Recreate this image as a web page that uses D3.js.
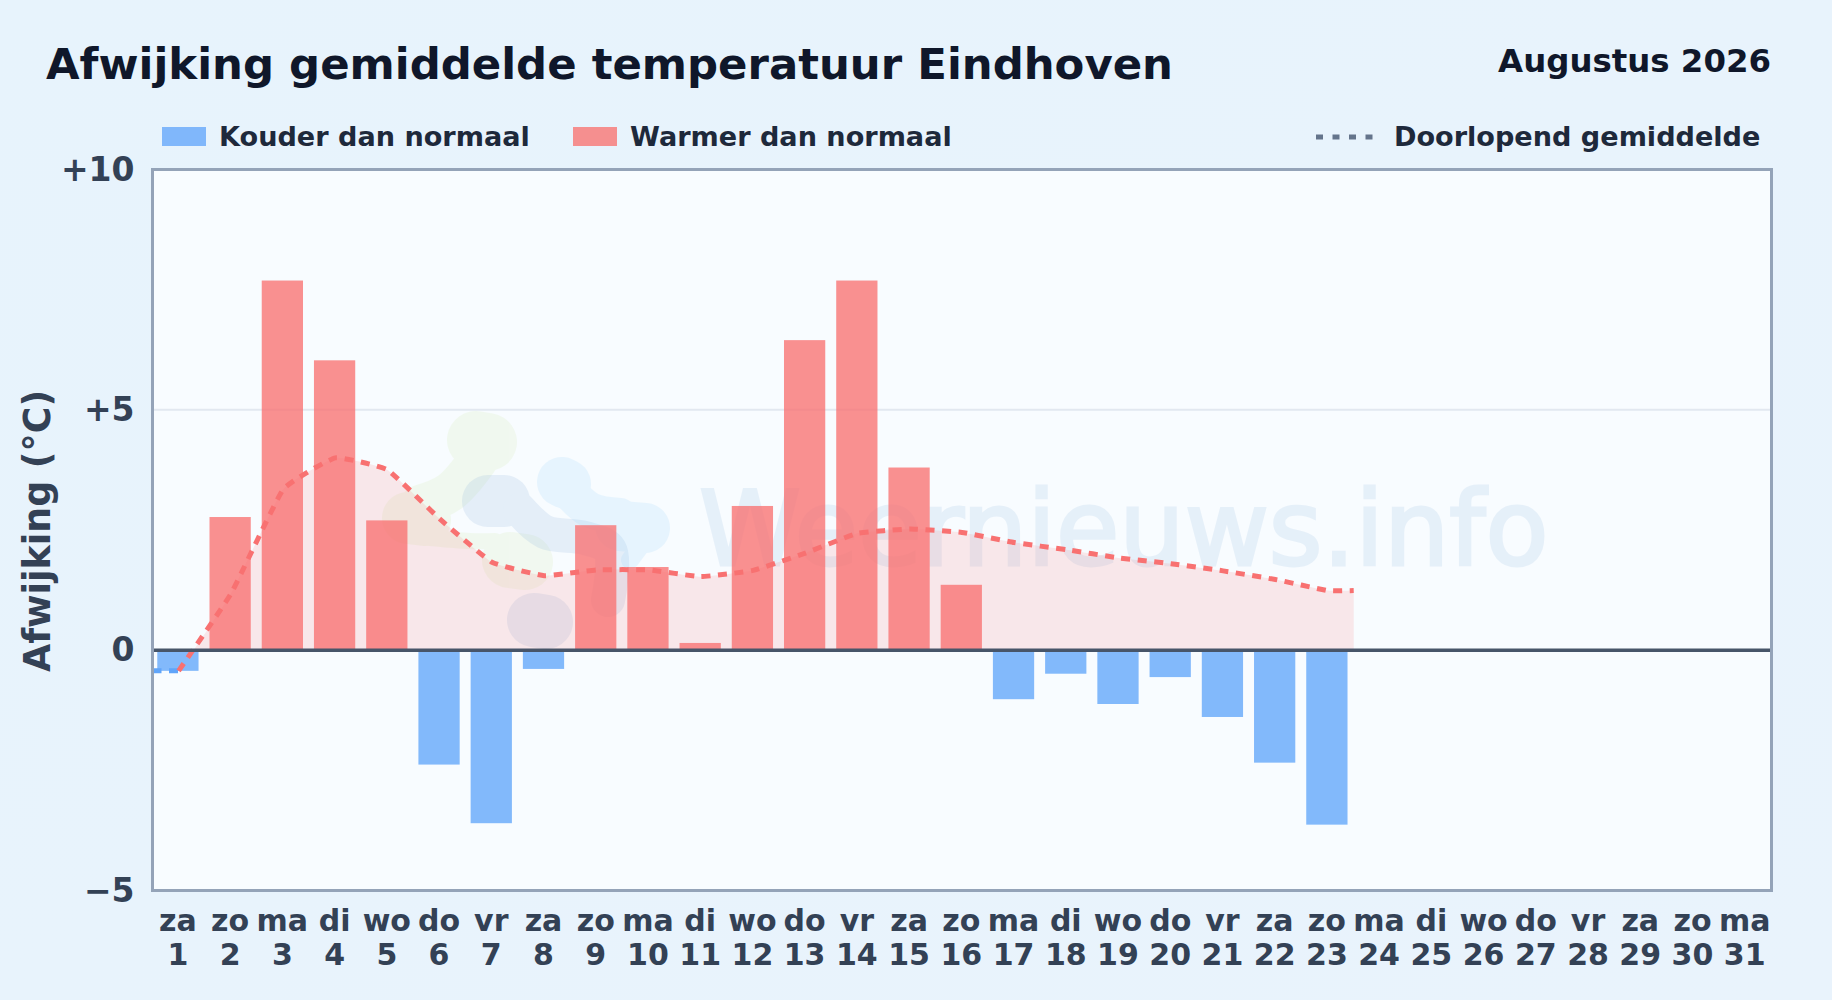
<!DOCTYPE html>
<html>
<head>
<meta charset="utf-8">
<script src="https://cdn.jsdelivr.net/npm/d3@7/dist/d3.min.js"></script>
<style>
	html, body { margin: 0; padding: 0; background: #e8f3fc; }
	svg { display: block; }
	svg text, .axis { font-family: "DejaVu Sans", sans-serif; }
	.axis path, .axis line { display: none; }
	.y.axis text { font-size: 33px; font-weight: bold; fill: #334155; }
	.x.axis text { font-size: 30px; font-weight: bold; fill: #334155; }
</style>
</head>
<body>
<div class="chart"></div>
<script>
var days = d3.range(1, 32);
var dayNames = ["za","zo","ma","di","wo","do","vr","za","zo","ma","di","wo","do","vr","za","zo","ma","di","wo","do","vr","za","zo","ma","di","wo","do","vr","za","zo","ma"];
var deviation = [-0.43,2.77,7.69,6.03,2.70,-2.38,-3.60,-0.39,2.60,1.73,0.15,3.00,6.45,7.69,3.80,1.36,-1.02,-0.49,-1.12,-0.56,-1.39,-2.34,-3.63];
var runningMean = [-0.43,1.17,3.34,4.00,3.75,2.73,1.83,1.55,1.67,1.67,1.53,1.66,2.02,2.43,2.52,2.45,2.24,2.09,1.92,1.80,1.65,1.47,1.24];
var yTicks = [-5, 0, 5, 10];

function drawChart() {
	var sel = d3.select(".chart").html("");
	var width = 1832, height = 1000;

	var svg = sel.append("svg")
		.attr("width", width)
		.attr("height", height);

	var grad = svg.append("defs").append("linearGradient")
		.attr("id", "page-bg")
		.attr("x1", 0).attr("y1", 0).attr("x2", 1).attr("y2", 1);
	grad.append("stop").attr("offset", "0%").attr("stop-color", "#e7f3fc");
	grad.append("stop").attr("offset", "100%").attr("stop-color", "#e9f3fc");

	var margin = {top: 169.5, right: 60.5, bottom: 109.5, left: 152.5};
	var w = width - margin.left - margin.right;
	var h = height - margin.top - margin.bottom;

	svg.append("rect").attr("width", width).attr("height", height).attr("fill", "url(#page-bg)");

	var x = d3.scaleBand().domain(days).range([-0.7, w - 0.7]).paddingInner(0.21).paddingOuter(0.105);
	var xLine = d3.scaleLinear().domain([0.5, 31.5]).range([0, w]);
	var y = d3.scaleLinear().domain([-5, 10]).range([h, 0]);

	// mean line runs on to the edges of the first and last day band
	var last = runningMean.length;
	var meanPoints = runningMean.map(function(v, i) { return {day: i + 1, value: v}; });
	var redPoints = meanPoints.concat([{day: last + 0.5, value: runningMean[last - 1]}]);
	var bluePoints = [{day: 0.5, value: runningMean[0]}, meanPoints[0]];

	var g = svg.append("g").attr("transform", "translate(" + margin.left + "," + margin.top + ")");

	g.append("rect")
		.attr("width", w).attr("height", h)
		.attr("fill", "#f8fcff");

	// faint site logo and name behind the marks
	var wm = g.append("g").attr("transform", "translate(" + (-margin.left) + "," + (-margin.top) + ")");
	var blob = d3.line().curve(d3.curveCatmullRom.alpha(0.5));
	var blobs = [
		{color: "#cce9a1", parts: [
			{size: 58, pts: [[476,440],[488,442]]},
			{size: 40, pts: [[478,460],[450,492],[420,505]]},
			{size: 52, pts: [[408,518],[425,520]]},
			{size: 16, pts: [[430,538],[470,541],[495,541]]},
			{size: 56, pts: [[510,560],[525,562]]}
		]},
		{color: "#7fa9d9", parts: [
			{size: 52, pts: [[488,501],[504,501]]},
			{size: 34, pts: [[520,510],[545,532],[585,538],[610,550],[608,600]]},
			{size: 54, pts: [[534,620],[546,622]]}
		]},
		{color: "#8fd0fb", parts: [
			{size: 50, pts: [[562,482],[566,484]]},
			{size: 36, pts: [[568,490],[590,510],[620,516]]},
			{size: 50, pts: [[620,526],[645,528]]},
			{size: 18, pts: [[645,540],[630,560]]}
		]}
	];
	var blobGroups = wm.selectAll("g.blob").data(blobs).enter().append("g")
		.attr("class", "blob")
		.attr("opacity", 0.16)
		.attr("stroke", function(d) { return d.color; });
	blobGroups.selectAll("path").data(function(d) { return d.parts; }).enter().append("path")
		.attr("d", function(d) { return blob(d.pts); })
		.attr("fill", "none")
		.attr("stroke-width", function(d) { return d.size; })
		.attr("stroke-linecap", "round")
		.attr("stroke-linejoin", "round");

	wm.append("text")
		.attr("x", 699)
		.attr("y", 565)
		.attr("font-size", 103)
		.attr("fill", "#8fb8e0")
		.attr("stroke", "#8fb8e0")
		.attr("stroke-width", 3)
		.attr("opacity", 0.17)
		.text("Weernieuws.info");

	g.append("clipPath").attr("id", "above-zero").append("rect")
		.attr("width", w).attr("height", y(0));

	g.selectAll(".grid").data(yTicks.filter(function(d) { return d == 5; })).enter().append("line")
		.attr("x2", w)
		.attr("y1", function(d) { return y(d); })
		.attr("y2", function(d) { return y(d); })
		.attr("stroke", "#e2e8f0")
		.attr("stroke-width", 2);

	var meanCurve = d3.curveCardinal.tension(0.65);

	var area = d3.area()
		.curve(meanCurve)
		.x(function(d) { return xLine(d.day); })
		.y0(y(0))
		.y1(function(d) { return y(d.value); });

	g.append("path")
		.datum(bluePoints.concat(redPoints.slice(1)))
		.attr("clip-path", "url(#above-zero)")
		.attr("d", area)
		.attr("fill", "#f87171")
		.attr("fill-opacity", 0.15);

	g.selectAll(".bar").data(deviation).enter().append("rect")
		.attr("class", "bar")
		.attr("x", function(d, i) { return x(days[i]); })
		.attr("y", function(d) { return y(Math.max(d, 0)); })
		.attr("width", x.bandwidth())
		.attr("height", function(d) { return Math.abs(y(d) - y(0)); })
		.attr("fill", function(d) { return d < 0 ? "#60a5fa" : "#f87171"; })
		.attr("fill-opacity", 0.78);

	var line = d3.line()
		.curve(meanCurve)
		.x(function(d) { return xLine(d.day); })
		.y(function(d) { return y(d.value); });

	g.append("path")
		.datum(bluePoints)
		.attr("d", line)
		.attr("fill", "none")
		.attr("stroke", "#60a5fa")
		.attr("stroke-width", 5)
		.attr("stroke-dasharray", "9 7.5");

	g.append("path")
		.datum(redPoints)
		.attr("d", line)
		.attr("fill", "none")
		.attr("stroke", "#f87171")
		.attr("stroke-width", 5)
		.attr("stroke-dasharray", "9 7.5");

	g.append("line")
		.attr("x2", w)
		.attr("y1", y(0)).attr("y2", y(0))
		.attr("stroke", "#475569")
		.attr("stroke-width", 3.5);

	g.append("rect")
		.attr("width", w).attr("height", h)
		.attr("fill", "none")
		.attr("stroke", "#94a3b8")
		.attr("stroke-width", 3);

	var yAxis = d3.axisLeft(y).tickValues(yTicks).tickSize(0).tickPadding(18).tickFormat(function(d) {
		return d > 0 ? "+" + d : d < 0 ? "\u2212" + Math.abs(d) : d;
	});
	g.append("g").attr("class", "y axis").call(yAxis);

	var xAxis = d3.axisBottom(x).tickSize(0).tickPadding(0).tickFormat(function() { return ""; });
	var xg = g.append("g").attr("class", "x axis")
		.attr("transform", "translate(0," + h + ")")
		.call(xAxis);

	xg.selectAll("text").each(function(d, i) {
		var t = d3.select(this).attr("y", null).attr("dy", null);
		t.append("tspan").attr("x", 0).attr("y", 40).text(dayNames[i]);
		t.append("tspan").attr("x", 0).attr("y", 74).text(d);
	});

	svg.append("text")
		.attr("transform", "translate(50," + (margin.top + h / 2 + 1) + ") rotate(-90)")
		.attr("text-anchor", "middle")
		.attr("font-size", 36.4)
		.attr("font-weight", "bold")
		.attr("fill", "#334155")
		.text("Afwijking (\u00b0C)");

	svg.append("text")
		.attr("x", 46).attr("y", 79)
		.attr("font-size", 43.4)
		.attr("font-weight", "bold")
		.attr("fill", "#0f172a")
		.text("Afwijking gemiddelde temperatuur Eindhoven");

	svg.append("text")
		.attr("x", 1771).attr("y", 72)
		.attr("text-anchor", "end")
		.attr("font-size", 32.4)
		.attr("font-weight", "bold")
		.attr("fill", "#0f172a")
		.text("Augustus 2026");

	var legend = svg.append("g").attr("font-size", 27.1).attr("font-weight", "bold").attr("fill", "#1e293b");
	var legendItems = [
		{label: "Kouder dan normaal", x: 162, color: "#80b7fb"},
		{label: "Warmer dan normaal", x: 573, color: "#f58f8f"}
	];
	legendItems.forEach(function(d) {
		legend.append("rect").attr("x", d.x).attr("y", 127).attr("width", 44).attr("height", 19).attr("fill", d.color);
		legend.append("text").attr("x", d.x + 57).attr("y", 146).text(d.label);
	});
	legend.append("line")
		.attr("x1", 1316).attr("x2", 1374)
		.attr("y1", 137).attr("y2", 137)
		.attr("stroke", "#64748b")
		.attr("stroke-width", 5)
		.attr("stroke-dasharray", "7 9.5");
	legend.append("text").attr("x", 1394).attr("y", 146).text("Doorlopend gemiddelde");
}

drawChart();
</script>
</body>
</html>
